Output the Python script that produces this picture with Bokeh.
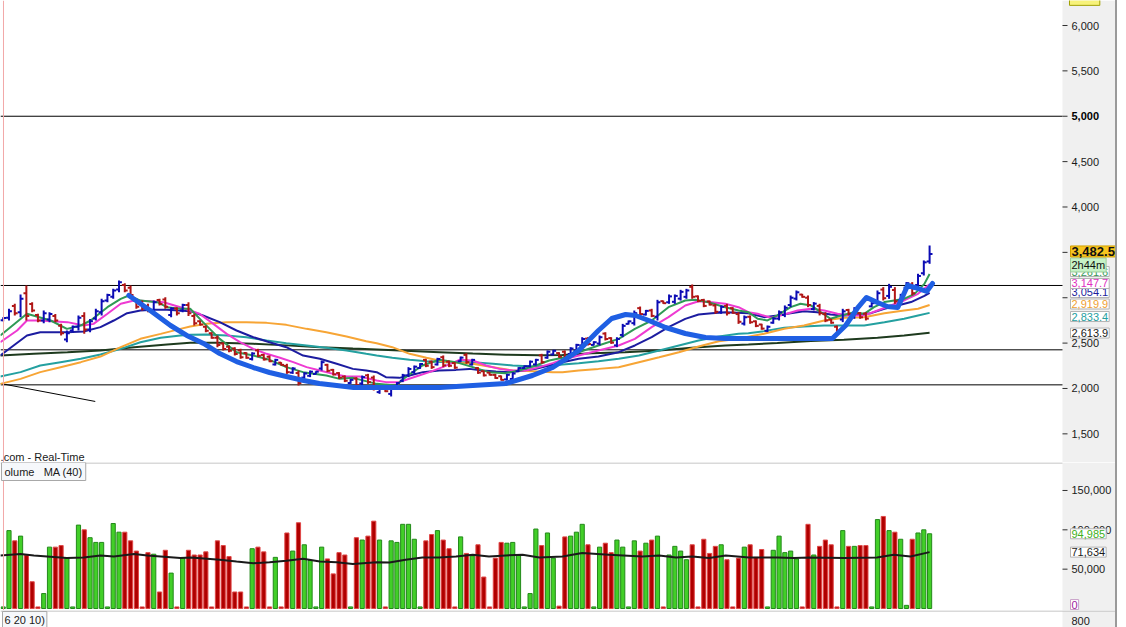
from bokeh.plotting import figure
from bokeh.models import Range1d, Label, Span, BoxAnnotation, ColumnDataSource, Div
from bokeh.layouts import column, row
from bokeh.core.properties import value
from bokeh.embed import file_html
from bokeh.resources import INLINE

# ---------------- data ----------------
bar_index = list(range(1, 162))

high = [2786, 2878, 2933, 3036, 3135, 2951, 2823, 2859, 2841, 2820,
        2712, 2639, 2694, 2804, 2841, 2767, 2878, 2988, 3043, 3098,
        3190, 3160, 3135, 2988, 2970, 2933, 2969, 2988, 3006, 2896,
        2896, 2933, 2951, 2823, 2749, 2694, 2620, 2584, 2510, 2474,
        2455, 2437, 2400, 2400, 2437, 2382, 2364, 2327, 2290, 2272,
        2235, 2198, 2180, 2198, 2190, 2308, 2272, 2216, 2180, 2143,
        2106, 2125, 2143, 2161, 2143, 2033, 2014, 2033, 2070, 2161,
        2235, 2253, 2279, 2327, 2308, 2338, 2364, 2308, 2290, 2352,
        2389, 2327, 2235, 2198, 2180, 2161, 2143, 2161, 2180, 2235,
        2253, 2308, 2327, 2382, 2419, 2426, 2400, 2419, 2455, 2492,
        2565, 2565, 2521, 2584, 2620, 2565, 2565, 2712, 2749, 2859,
        2903, 2866, 2878, 2977, 2969, 3036, 3036, 3087, 3098, 3146,
        3025, 2988, 2969, 2933, 2914, 2933, 2896, 2841, 2804, 2805,
        2750, 2713, 2694, 2786, 2860, 2915, 3025, 3080, 3043, 3025,
        2952, 2933, 2841, 2768, 2694, 2878, 2878, 2896, 2841, 2841,
        2952, 3080, 3117, 3153, 3117, 3043, 3172, 3172, 3264, 3411,
        3576]
low = [2742, 2749, 2804, 2786, 2749, 2841, 2730, 2720, 2730, 2730,
       2584, 2510, 2620, 2639, 2602, 2620, 2749, 2804, 2951, 2988,
       3061, 3061, 3006, 2878, 2859, 2841, 2823, 2914, 2878, 2786,
       2804, 2841, 2800, 2694, 2694, 2620, 2547, 2455, 2419, 2400,
       2364, 2327, 2327, 2308, 2345, 2308, 2290, 2253, 2253, 2161,
       2161, 2033, 2106, 2125, 2155, 2198, 2180, 2143, 2106, 2070,
       2051, 2014, 2033, 2051, 1978, 1941, 1960, 1912, 1996, 2070,
       2125, 2161, 2216, 2235, 2216, 2253, 2235, 2235, 2216, 2290,
       2272, 2253, 2161, 2132, 2143, 2106, 2088, 2088, 2088, 2180,
       2216, 2235, 2253, 2272, 2327, 2364, 2338, 2327, 2364, 2400,
       2455, 2474, 2474, 2474, 2529, 2492, 2455, 2565, 2705, 2694,
       2804, 2804, 2786, 2749, 2933, 2933, 2933, 2969, 2988, 2988,
       2951, 2896, 2914, 2823, 2823, 2804, 2823, 2712, 2694, 2713,
       2676, 2647, 2621, 2713, 2750, 2786, 2896, 2970, 3000, 2896,
       2860, 2805, 2731, 2713, 2603, 2731, 2805, 2768, 2768, 2750,
       2896, 2933, 2970, 2988, 2933, 2952, 3098, 3025, 3117, 3245,
       3374]
open_ = [2752, 2780, 2910, 2840, 3050, 2930, 2810, 2750, 2760, 2800,
         2690, 2540, 2640, 2680, 2800, 2650, 2770, 2840, 2970, 3010,
         3090, 3140, 3110, 2970, 2950, 2910, 2850, 2975, 2980, 2810,
         2880, 2860, 2920, 2800, 2740, 2680, 2610, 2560, 2495, 2460,
         2440, 2420, 2390, 2325, 2420, 2370, 2350, 2265, 2285, 2250,
         2175, 2170, 2120, 2140, 2160, 2220, 2260, 2205, 2170, 2130,
         2060, 2110, 2055, 2145, 2120, 1960, 2005, 1940, 2010, 2085,
         2145, 2180, 2225, 2315, 2295, 2265, 2345, 2295, 2280, 2300,
         2370, 2265, 2225, 2190, 2175, 2150, 2135, 2100, 2105, 2190,
         2225, 2245, 2265, 2365, 2340, 2375, 2390, 2405, 2380, 2415,
         2475, 2550, 2480, 2495, 2605, 2555, 2475, 2590, 2712, 2720,
         2885, 2815, 2860, 2790, 2962, 2950, 2955, 2990, 3010, 3120,
         3015, 2975, 2960, 2915, 2840, 2910, 2885, 2820, 2715, 2790,
         2740, 2705, 2635, 2725, 2770, 2810, 2920, 2990, 3035, 3000,
         2875, 2910, 2820, 2760, 2680, 2760, 2865, 2790, 2830, 2825,
         2905, 2960, 3090, 3020, 3085, 2970, 3110, 3145, 3140, 3270,
         3400]
close = [2778, 2850, 2830, 2990, 2800, 2860, 2750, 2830, 2820, 2750,
         2610, 2610, 2680, 2780, 2650, 2740, 2850, 2960, 3030, 3080,
         3170, 3080, 3030, 2900, 2880, 2860, 2950, 2930, 2900, 2880,
         2830, 2920, 2830, 2720, 2705, 2635, 2560, 2480, 2435, 2415,
         2380, 2345, 2340, 2385, 2360, 2320, 2300, 2315, 2260, 2180,
         2220, 2060, 2165, 2185, 2185, 2290, 2195, 2155, 2120, 2085,
         2095, 2035, 2125, 2070, 2000, 2020, 1970, 2015, 2060, 2145,
         2215, 2240, 2270, 2250, 2235, 2325, 2255, 2250, 2230, 2340,
         2290, 2315, 2175, 2145, 2150, 2115, 2095, 2150, 2165, 2225,
         2245, 2295, 2315, 2290, 2405, 2415, 2350, 2340, 2440, 2480,
         2545, 2490, 2510, 2565, 2545, 2505, 2545, 2690, 2740, 2830,
         2820, 2855, 2800, 2950, 2940, 3015, 3020, 3065, 3080, 3010,
         2965, 2910, 2925, 2845, 2900, 2830, 2835, 2735, 2785, 2730,
         2690, 2660, 2680, 2770, 2840, 2890, 3000, 3060, 3010, 2920,
         2935, 2830, 2750, 2725, 2620, 2850, 2820, 2870, 2785, 2770,
         2940, 3050, 2995, 3120, 2960, 3025, 3160, 3050, 3240, 3390,
         3482.5]

volume_k = [2, 99, 86, 92, 68, 34, 2, 19, 78, 78,
            80, 64, 2, 106, 100, 90, 84, 84, 2, 108,
            97, 97, 86, 73, 2, 71, 69, 21, 74, 45,
            2, 64, 74, 68, 68, 72, 2, 86, 80, 66,
            21, 21, 2, 76, 78, 72, 2, 65, 2, 96,
            73, 109, 81, 61, 2, 78, 63, 44, 71, 68,
            2, 90, 87, 92, 111, 87, 2, 86, 84, 107,
            107, 88, 2, 86, 94, 99, 87, 76, 2, 91,
            70, 67, 81, 40, 2, 64, 84, 83, 84, 68,
            2, 19, 101, 80, 96, 64, 3, 91, 92, 97,
            107, 81, 2, 78, 83, 71, 87, 78, 2, 86,
            73, 83, 87, 92, 2, 68, 79, 73, 62, 81,
            2, 88, 70, 79, 81, 62, 2, 64, 78, 81,
            65, 75, 2, 74, 92, 71, 73, 63, 2, 107,
            68, 79, 87, 81, 2, 99, 79, 79, 80, 80,
            2, 113, 117, 99, 97, 88, 4, 88, 96, 100,
            94.985]
volume_dir = ("ggrgrrrggr" "rgggrggggg" "grrrrrgrrg" "rgrrrrrrrr"
              "rrrgrrrgrr" "grggggrrrr" "grgrrgrggg" "gggrrgrrrg"
              "rgrrrrrggg" "gggrggrrgg" "grggrrgggg" "rgrgrggggr"
              "rrrrgrrrgr" "rrggggggrr" "grrrrgrgrr" "ggrgrggrggg")

vma_x = [0.5, 4.0, 6.3, 8.6, 12.0, 14.9, 17.8, 20.1, 23.6, 25.9, 28.2, 31.6, 33.4,
         38.4, 41.3, 44.2, 47.0, 49.9, 52.8, 55.7, 58.6, 61.4, 65.5, 67.7, 70.5,
         73.4, 76.3, 79.2, 82.1, 84.9, 87.8, 90.7, 93.6, 97.6, 101.0, 105.6, 111.4,
         114.3, 117.2, 120.0, 122.9, 125.8, 129.8, 134.7, 137.5, 140.4, 146.2, 151.9,
         154.8, 157.7, 161]
vma_k = [67.5, 69.3, 67.5, 66.2, 64.1, 64.9, 67.5, 66.2, 69.3, 67.5, 66.2, 64.1, 64.9,
         61.9, 59.7, 57.6, 58.9, 60.6, 63.2, 59.7, 58.9, 56.7, 58.9, 58.4, 61.9,
         64.9, 64.9, 66.2, 68.4, 66.2, 67.5, 68.4, 64.9, 66.2, 70.6, 68.4, 66.2,
         67.5, 64.9, 66.2, 64.1, 67.5, 64.9, 64.9, 64.1, 64.9, 64.1, 64.9,
         68.4, 66.2, 71.634]

ma_green_x = [0.5, 5.1, 9.2, 12.0, 14.4, 16.1, 19.0, 21.3, 22.7, 24.7, 27.6, 29.3, 31.6, 33.3,
              35.5, 38.4, 41.3, 44.2, 47.0, 49.9, 52.8, 56.8, 59.1, 61.4, 65.5, 68.8, 70.5,
              73.4, 76.3, 79.2, 82.1, 84.9, 87.8, 90.1, 93.0, 95.3, 97.6, 100.4, 103.8, 107.3,
              110.1, 113.0, 115.9, 118.8, 120.5, 122.8, 125.7, 128.0, 129.7, 131.3, 133.0,
              134.7, 137.0, 138.7, 140.5, 142.2, 143.9, 145.7, 148.0, 149.7, 151.4, 153.2,
              154.9, 156.6, 158.4, 160.1, 161]
ma_green = [2584, 2823, 2749, 2657, 2694, 2749, 2896, 2988, 3025, 2969, 2951, 2896, 2878, 2878,
            2731, 2547, 2400, 2363, 2316, 2235, 2180, 2143, 2106, 2117, 2051, 2033, 2125,
            2253, 2316, 2290, 2235, 2180, 2169, 2198, 2253, 2308, 2338, 2400, 2474, 2547,
            2657, 2749, 2896, 2969, 2977, 2951, 2896, 2859, 2841, 2768, 2750,
            2805, 2896, 2933, 2915, 2841, 2768, 2805, 2841, 2823, 2896, 2952,
            2970, 2988, 3043, 3153, 3261.6]

ma_magenta_x = [0.5, 3.4, 5.1, 7.4, 12.1, 14.9, 16.6, 19.0, 21.3, 23.6, 26.4, 28.7, 31.6, 33.3,
                34.9, 37.3, 39.6, 41.9, 44.2, 46.5, 48.8, 51.1, 53.4, 55.7, 58.0, 60.3, 62.6,
                65.5, 67.1, 69.4, 72.3, 74.6, 76.9, 79.8, 82.1, 84.4, 86.7, 89.0, 91.3, 93.6,
                95.9, 97.6, 100.4, 103.8, 107.3, 110.1, 113.0, 115.9, 118.8, 121.1, 123.4,
                125.7, 128.0, 129.7, 131.3, 133.6, 135.9, 138.2, 140.5, 142.8, 145.1, 147.4,
                149.7, 152.0, 154.3, 156.6, 159.0, 161]
ma_magenta = [2510, 2639, 2749, 2749, 2731, 2694, 2712, 2823, 2933, 2969, 2962, 2951, 2896, 2859,
              2823, 2712, 2602, 2510, 2437, 2382, 2338, 2290, 2235, 2198, 2161, 2132, 2132,
              2088, 2070, 2070, 2132, 2180, 2235, 2316, 2308, 2253, 2216, 2198, 2198, 2235,
              2279, 2316, 2363, 2419, 2474, 2547, 2676, 2786, 2914, 2962, 2951,
              2933, 2896, 2841, 2823, 2779, 2816, 2860, 2878, 2860, 2823, 2805,
              2805, 2860, 2915, 2970, 3043, 3147.7]

ma_navy_x = [0.5, 2.8, 5.1, 7.4, 12.1, 14.9, 17.8, 20.1, 22.4, 24.7, 27.0, 29.3, 33.3, 35.5,
             38.4, 41.3, 44.2, 47.0, 49.9, 52.8, 55.7, 58.6, 61.4, 63.7, 65.5, 67.1, 69.4,
             71.2, 73.5, 76.3, 79.2, 81.5, 83.8, 86.1, 88.4, 90.7, 93.0, 95.3, 97.6, 100.4,
             103.8, 107.3, 110.1, 113.0, 115.9, 118.8, 121.1, 123.4, 125.7, 129.7, 132.4,
             134.7, 137.0, 139.3, 141.6, 143.9, 146.2, 148.6, 150.9, 153.2, 155.5, 157.8,
             160.1, 161]
ma_navy = [2363, 2474, 2584, 2620, 2620, 2628, 2676, 2749, 2830, 2859, 2867, 2867, 2852, 2804,
           2731, 2639, 2565, 2510, 2455, 2363, 2327, 2272, 2216, 2198, 2180, 2125, 2117,
           2143, 2180, 2198, 2205, 2216, 2198, 2187, 2180, 2198, 2216, 2253, 2290, 2327,
           2352, 2400, 2474, 2565, 2676, 2767, 2815, 2830, 2841, 2830, 2786,
           2805, 2830, 2852, 2841, 2816, 2805, 2816, 2830, 2878, 2915, 2952,
           3020, 3054.1]

ma_orange_x = [0.5, 4.0, 7.4, 10.9, 14.4, 17.8, 21.3, 24.7, 28.2, 31.6, 33.3, 36.1, 39.6, 43.0,
               46.5, 49.9, 53.4, 56.8, 60.3, 63.7, 65.5, 68.2, 71.2, 74.1, 77.6, 82.1, 85.6,
               89.0, 92.5, 95.9, 97.6, 100.4, 103.8, 107.3, 110.8, 114.3, 117.7, 121.1, 124.6,
               128.0, 129.7, 132.4, 135.9, 139.3, 142.8, 146.2, 149.7, 153.2, 156.6, 159.0, 161]
ma_orange = [2051, 2106, 2180, 2235, 2290, 2352, 2455, 2547, 2602, 2657, 2683, 2712, 2731, 2731,
             2723, 2701, 2657, 2620, 2573, 2521, 2499, 2455, 2382, 2338, 2290, 2272, 2235,
             2198, 2191, 2180, 2180, 2198, 2216, 2235, 2290, 2345, 2400, 2463, 2521,
             2547, 2570, 2603, 2658, 2694, 2750, 2779, 2786, 2830, 2860, 2878, 2919.9]

ma_teal_x = [0.5, 4.0, 7.4, 10.9, 14.4, 17.8, 21.3, 24.7, 28.2, 31.6, 33.3, 36.1, 39.6, 43.0,
             46.5, 49.9, 53.4, 56.8, 60.3, 63.7, 65.5, 68.2, 71.2, 74.1, 77.6, 82.1, 85.6,
             89.0, 92.5, 95.9, 97.6, 100.4, 103.8, 107.3, 110.8, 114.3, 117.7, 121.1, 124.6,
             128.0, 129.7, 132.4, 135.9, 139.3, 142.8, 146.2, 149.7, 153.2, 156.6, 159.0, 161]
ma_teal = [2132, 2180, 2253, 2290, 2327, 2374, 2437, 2510, 2558, 2584, 2591, 2595, 2584, 2565,
           2529, 2499, 2474, 2448, 2419, 2382, 2363, 2338, 2316, 2301, 2290, 2290, 2272,
           2253, 2242, 2253, 2264, 2279, 2301, 2327, 2363, 2419, 2474, 2529, 2573,
           2602, 2609, 2632, 2669, 2683, 2694, 2694, 2694, 2731, 2768, 2805, 2833.4]

ma_dark_x = [0.5, 6.3, 12.1, 17.8, 23.6, 29.3, 33.3, 38.4, 44.2, 49.9, 55.7, 61.4, 65.5, 70.5,
             76.3, 82.1, 87.8, 93.6, 97.6, 102.6, 108.4, 114.3, 119.9, 125.7, 129.7, 134.7,
             140.5, 146.2, 152.0, 156.6, 161]
ma_dark = [2363, 2382, 2400, 2419, 2455, 2485, 2505, 2505, 2492, 2475, 2455, 2440, 2430, 2415,
           2400, 2385, 2372, 2365, 2370, 2389, 2400, 2419, 2448, 2474, 2485, 2500,
           2522, 2536, 2558, 2584, 2613.9]

drawing_x = [22.7, 26.4, 29.9, 32.7, 35.6, 38.4, 41.3, 44.2, 47.0, 49.9, 52.9, 55.6, 58.6, 61.5,
             65.5, 70.5, 76.4, 82.1, 87.8, 92.4, 95.9, 100.4, 103.8, 106.1, 108.5, 110.2, 112.5,
             115.4, 118.8, 122.3, 125.7, 129.7, 144.2, 146.5, 148.6, 150.1, 152.0, 153.7, 155.5,
             157.2, 158.4, 160.5, 161.5]
drawing_y = [3025, 2859, 2694, 2584, 2496, 2385, 2297, 2231, 2176, 2132, 2088, 2055, 2033, 2011,
             2011, 2011, 2011, 2033, 2055, 2143, 2231, 2418, 2639, 2771, 2815, 2804, 2749,
             2672, 2606, 2562, 2551, 2551, 2551, 2694, 2892, 3003, 2947, 2903, 2892,
             3135, 3113, 3069, 3157]

trend_x = [0.53, 16.9]
trend_y = [2055, 1857]
h_levels = [5000, 3135, 2426, 2040]

price_ticks = [1500, 2000, 2500, 3000, 3500, 4000, 4500, 5000, 5500, 6000]
price_tick_labels = ["1,500", "2,000", "2,500", "", "", "4,000", "4,500", "", "5,500", "6,000"]
bold_tick = [5000]
bold_tick_label = ["5,000"]
volume_ticks = [50000, 100000, 150000]
volume_tick_labels = ["50,000", "100,000", "150,000"]

ma_boxes = [("2,613.9", 2611, "#202020"), ("2,833.4", 2793, "#24a0a0"),
            ("2,919.9", 2931, "#f0a030"), ("3,054.1", 3058, "#1c1c9c"),
            ("3,147.7", 3157, "#e030c0"), ("3,261.6", 3289, "#3a9a5a")]

# ---------------- layout constants (bar-index units) ----------------
FONT = "Liberation Sans"
X0, X1 = 0.5337, 193.107      # left edge of chart .. right edge of scale strip
XE = 183.953                  # end of plotting area, start of scale strip
XT = 184.817                  # end of tick marks
XL = 185.508                  # tick label start
AX = 185.335                  # value boxes
FW = 1115
x_range = Range1d(X0, X1)


def base_fig(h, y_range):
    f = figure(frame_width=FW, frame_height=h, x_range=x_range, y_range=y_range,
               output_backend="svg", toolbar_location=None,
               min_border_left=0, min_border_right=0, min_border_top=0, min_border_bottom=0,
               x_axis_location=None, y_axis_location=None)
    f.grid.visible = False
    f.outline_line_color = None
    f.background_fill_color = "white"
    f.border_fill_color = "white"
    f.add_layout(BoxAnnotation(left=XE, fill_color="#f0f0f0", fill_alpha=1,
                               line_color=None, level="underlay"))
    return f


def add_ticks(f, ticks, labels):
    f.segment(x0=[XE] * len(ticks), y0=ticks, x1=[XT] * len(ticks), y1=ticks,
              line_color="#303030", line_width=1)
    f.text(x=[XL] * len(ticks), y=ticks, text=labels, text_font=value(FONT),
           text_font_size="11px", text_color="#1a1a1a", text_baseline="middle", text_align="left")


def box(f, x, y, txt, col, bg="white", border="#b4b4b4", size="11px", style="normal", pad=2):
    f.add_layout(Label(x=x, y=y, text=txt, text_font=FONT, text_font_size=size, text_color=col,
                       text_font_style=style, text_baseline="middle", background_fill_color=bg,
                       border_line_color=border, border_line_width=1, padding=pad))


# ---------------- price panel ----------------
p = base_fig(462, Range1d(1184.3, 6275.5))
p.add_layout(Span(location=1.05, dimension="height", line_color="#f2a8a8", line_width=1))
p.segment(x0=[X0] * len(h_levels), y0=h_levels, x1=[XE] * len(h_levels), y1=h_levels,
          line_color="black", line_width=1)
p.line(trend_x, trend_y, line_color="black", line_width=1)

p.line(ma_dark_x, ma_dark, line_color="#1e3a1e", line_width=2)
p.line(ma_teal_x, ma_teal, line_color="#24a0a0", line_width=2)
p.line(ma_orange_x, ma_orange, line_color="#f7a535", line_width=2)
p.line(ma_navy_x, ma_navy, line_color="#1c1ca0", line_width=2)
p.line(ma_magenta_x, ma_magenta, line_color="#ee3ad2", line_width=2)
p.line(ma_green_x, ma_green, line_color="#2f9a55", line_width=2)

colors = ["#0c0cb4" if c >= o else "#b01616" for o, c in zip(open_, close)]
src = ColumnDataSource(dict(x=bar_index, h=high, l=low, o=open_, c=close, col=colors,
                            xl=[i - 0.5 for i in bar_index], xr=[i + 0.5 for i in bar_index]))
p.segment(x0="x", y0="l", x1="x", y1="h", line_color="col", line_width=2, source=src)
p.segment(x0="xl", y0="o", x1="x", y1="o", line_color="col", line_width=2, source=src)
p.segment(x0="x", y0="c", x1="xr", y1="c", line_color="col", line_width=2, source=src)

p.line(drawing_x, drawing_y, line_color="#1f5fe3", line_width=5, line_cap="round", line_join="round")

add_ticks(p, price_ticks, price_tick_labels)
p.text(x=[XL], y=bold_tick, text=bold_tick_label, text_font=value(FONT), text_font_size="11px",
       text_font_style="bold", text_color="#000000", text_baseline="middle", text_align="left")

# top edge of a scale box that lies above the visible range
p.quad(left=[185.16], right=[190.4], top=[6300], bottom=[6222], fill_color="#f7f27a",
       line_color="#a0a000", line_width=1)

p.add_layout(Label(x=X0 + 0.02, y=1250, text=".com - Real-Time", text_font=FONT,
                   text_font_size="11px", text_color="#1a1a1a", text_baseline="middle"))

for txt, yv, col in ma_boxes:
    box(p, AX, yv, txt, col, pad=1)
box(p, AX, 3361, "2h44m", "#101010", bg="#c6f2c6", border="#9ccc9c", pad=1)
box(p, AX, 3510, "3,482.5", "#101010", bg="#f7c520", border="#d0a000", size="13px",
    style="bold", pad=1)

# ---------------- volume panel ----------------
v = base_fig(148, Range1d(-2542, 185566))
v.add_layout(Span(location=1.05, dimension="height", line_color="#f2a8a8", line_width=1))
v.segment(x0=[X0], y0=[184930], x1=[XE], y1=[184930], line_color="#b4b4b4", line_width=1)

vol = [k * 1000 for k in volume_k]
vfill = ["#42cf28" if d == "g" else "#b00000" for d in volume_dir]
vline = ["#23891a" if d == "g" else "#e04848" for d in volume_dir]
vsrc = ColumnDataSource(dict(x=bar_index, top=vol, fill=vfill, line=vline))
v.vbar(x="x", top="top", bottom=0, width=0.72, fill_color="fill", line_color="line",
       line_width=1, source=vsrc)
v.line(vma_x, [k * 1000 for k in vma_k], line_color="#1a1a1a", line_width=2)

add_ticks(v, volume_ticks, volume_tick_labels)
box(v, 0.706, 174127, "olume\u00a0\u00a0\u00a0MA (40)", "#1a1a1a", bg="#f6f8fb",
    border="#a8a8a8", pad=3)
box(v, AX, 94985, "94,985", "#40b020", pad=1)
box(v, AX, 71634, "71,634", "#1a1a1a", pad=1)
box(v, AX, 5000, "0", "#a020a0", border="#c8a0c8", pad=1)

# ---------------- bottom strip ----------------
s = base_fig(17, Range1d(0, 17))
s.add_layout(Span(location=16.5, dimension="width", line_color="#b4b4b4", line_width=1))
box(s, 0.88, 8, "6 20 10)", "#1a1a1a", bg="#f6f8fb", border="#a8a8a8", pad=2)
s.text(x=[XL], y=[7], text=["800"], text_font=value(FONT), text_font_size="11px",
       text_color="#1a1a1a", text_baseline="middle", text_align="left")

sep = Div(text="", width=2, height=627, margin=0, styles={"background-color": "#9a9a9a"})
tail = Div(text="", width=9, height=627, margin=0, styles={"background-color": "white"})
layout = row(column(p, v, s, spacing=0), sep, tail, spacing=0)

open("out.html", "w").write(file_html(layout, INLINE))
